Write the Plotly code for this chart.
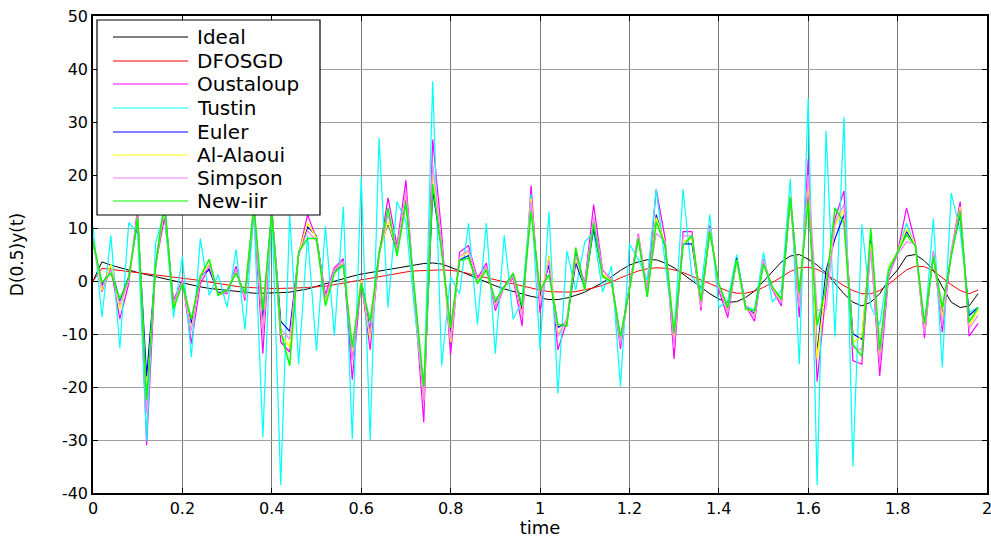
import plotly.graph_objects as go

# ---------------- data ----------------
t = [round(0.02 * i, 2) for i in range(100)]

ideal = [0.0, 3.6, 3.0, 2.5, 2.0, 1.6, 1.2, 0.8, 0.4, 0.0,
         -0.4, -0.8, -1.1, -1.4, -1.6, -1.8, -2.0, -2.2, -2.3, -2.3,
         -2.3, -2.2, -2.1, -1.8, -1.5, -1.0, -0.5, 0.0, 0.4, 0.9,
         1.3, 1.6, 1.9, 2.2, 2.5, 2.8, 3.1, 3.3, 3.4, 3.2,
         2.6, 1.9, 1.1, 0.4, -0.3, -0.9, -1.5, -2.0, -2.5, -2.9,
         -3.2, -3.5, -3.5, -3.2, -2.7, -2.1, -1.2, -0.3, 0.8, 2.0,
         3.0, 3.6, 4.0, 4.0, 3.4, 2.5, 1.3, 0.1, -1.2, -2.4,
         -3.4, -4.0, -3.9, -3.1, -1.9, -0.1, 1.8, 3.6, 4.7, 5.0,
         4.1, 3.0, 1.5, -0.5, -2.4, -4.0, -4.7, -4.0, -2.4, 0.2,
         2.1, 4.7, 5.0, 3.8, 2.1, -1.1, -4.0, -5.0, -4.7, -2.4]

dfosgd = [0.0, 2.4, 2.2, 2.0, 1.8, 1.6, 1.4, 1.2, 1.0, 0.8,
          0.5, 0.3, 0.1, -0.2, -0.5, -0.8, -1.0, -1.2, -1.3, -1.4,
          -1.4, -1.4, -1.4, -1.3, -1.2, -1.1, -1.0, -0.7, -0.4, -0.1,
          0.3, 0.6, 0.9, 1.2, 1.5, 1.7, 1.9, 2.0, 2.1, 2.1,
          2.0, 1.8, 1.4, 1.0, 0.6, 0.2, -0.2, -0.6, -1.0, -1.3,
          -1.7, -2.0, -2.1, -2.1, -2.0, -1.7, -1.3, -0.8, -0.2, 0.6,
          1.3, 1.9, 2.3, 2.5, 2.4, 2.1, 1.6, 0.9, 0.1, -0.6,
          -1.3, -1.9, -2.3, -2.3, -1.9, -1.2, -0.3, 0.8, 1.8, 2.5,
          2.6, 2.2, 1.3, 0.2, -0.9, -1.8, -2.4, -2.4, -1.8, -0.6,
          0.8, 2.1, 2.8, 2.7, 1.9, 0.6, -0.7, -1.8, -2.4, -1.7]

oustaloup = [8.0, -2.0, 2.5, -7.2, -0.5, 14.0, -31.0, 3.0, 12.0, -3.7,
             0.2, -11.8, -0.5, 2.5, -2.4, -2.4, 2.8, -3.7, 13.0, -13.7,
             14.0, -11.5, -13.4, 5.0, 12.5, 8.0, -2.5, 2.5, 4.2, -18.6,
             0.0, -13.0, 5.0, 15.7, 6.7, 19.0, -4.0, -26.7, 26.7, 9.0,
             -14.0, 5.4, 6.7, 0.5, 3.4, -5.6, -1.1, 0.5, -8.5, 18.0,
             -6.0, 4.7, -13.0, -7.6, 5.4, -0.5, 14.4, 2.1, 0.2, -12.8,
             -1.0, 8.9, -1.7, 17.3, 8.0, -14.7, 9.3, 9.3, -5.6, 10.5,
             -1.7, -6.9, 4.1, -4.7, -7.6, 4.1, -1.7, -4.7, 16.0, -6.9,
             23.0, -19.0, -2.0, 11.8, 17.0, -15.0, -15.7, 6.7, -17.9, 0.8,
             5.4, 13.8, 7.0, -10.8, 5.6, -9.6, 5.6, 15.0, -10.4, -8.0]

tustin = [10.2, -6.8, 8.6, -12.7, 11.0, 9.0, -30.2, 7.2, 13.0, -6.9,
          4.7, -14.4, 8.0, -2.7, 1.2, -5.0, 6.0, -9.2, 13.0, -29.5,
          14.0, -38.5, 12.5, -15.7, 8.6, -13.2, 10.3, -10.3, 14.0, -29.8,
          19.6, -30.0, 27.0, -5.0, 15.0, 11.2, -6.0, -21.8, 37.7, -16.0,
          0.8, -2.4, 10.9, -8.2, 10.9, -13.7, 8.6, -7.2, -3.7, 16.4,
          -13.0, 13.1, -21.2, 5.7, -1.7, 7.3, 9.3, -2.1, 2.8, -19.9,
          7.0, 4.1, 0.2, 17.3, 3.4, -10.5, 17.3, 0.8, -1.7, 12.5,
          -5.0, -3.7, 5.0, -4.7, -5.5, 5.4, -4.0, -1.7, 19.3, -15.7,
          34.5, -38.5, 28.3, -10.5, 31.0, -35.0, 10.7, -4.8, -8.3, 2.8,
          5.4, 10.9, 6.5, -9.5, 11.8, -16.3, 16.6, 9.5, -5.9, -5.0]

euler = [7.2, -0.8, 2.5, -3.7, 0.8, 11.5, -18.0, 2.5, 14.5, -4.5,
         -0.3, -8.0, 1.0, 2.1, -2.2, -2.0, 1.8, -2.8, 14.0, -7.5,
         13.5, -7.6, -9.5, 5.0, 10.2, 8.5, -3.5, 1.8, 3.5, -14.7,
         0.3, -9.5, 5.5, 10.9, 5.5, 15.5, -3.0, -22.0, 17.0, 6.0,
         -10.0, 4.0, 4.8, 0.0, 2.5, -4.2, -1.0, 1.2, -5.5, 14.5,
         -3.0, 3.0, -8.8, -7.8, 3.4, -1.2, 9.9, 1.2, 0.1, -11.0,
         -1.2, 8.2, -2.5, 12.5, 6.5, -11.0, 7.0, 7.0, -4.5, 9.8,
         -0.8, -5.5, 4.3, -4.8, -6.2, 3.6, -1.5, -3.8, 16.0, -3.5,
         17.0, -13.4, 2.0, 8.0, 12.5, -10.0, -11.0, 8.0, -14.0, 2.0,
         5.6, 9.3, 6.8, -9.0, 5.0, -6.5, 5.2, 12.5, -6.5, -5.0]

al_alaoui = [7.8, -1.7, 3.1, -5.3, 0.5, 12.5, -23.0, 2.8, 14.0, -4.8,
             -0.2, -9.2, 0.9, 3.2, -2.5, -1.8, 2.0, -3.0, 14.5, -9.8,
             13.5, -10.0, -12.5, 5.2, 10.9, 8.2, -3.8, 2.0, 3.6, -13.5,
             0.2, -10.8, 5.2, 11.2, 5.8, 16.5, -3.5, -22.5, 20.9, 6.5,
             -11.5, 4.5, 5.5, 0.0, 2.6, -4.5, -1.2, 1.0, -6.5, 15.5,
             -4.0, 4.7, -10.0, -7.5, 4.5, -1.0, 11.5, 1.3, 0.0, -11.5,
             -1.3, 8.5, -2.2, 12.0, 7.0, -11.5, 7.5, 8.0, -4.8, 10.0,
             -1.0, -5.8, 4.0, -5.0, -6.5, 3.8, -1.4, -4.0, 16.0, -4.6,
             18.8, -14.7, 0.0, 10.5, 13.5, -11.6, -10.5, 7.0, -14.7, 2.5,
             5.5, 9.9, 6.8, -9.5, 5.2, -7.0, 5.5, 14.0, -8.5, -5.5]

simpson = [7.5, -1.2, 2.2, -4.5, 0.0, 12.8, -25.0, 3.5, 14.0, -4.2,
           0.0, -9.5, 0.2, 3.0, -2.5, -2.2, 2.2, -3.2, 13.5, -10.0,
           13.8, -9.0, -11.0, 4.8, 9.5, 7.5, -3.2, 2.0, 3.8, -15.0,
           -0.3, -10.0, 5.0, 12.5, 6.0, 17.0, -3.8, -23.0, 22.0, 7.0,
           -11.0, 4.6, 5.8, 0.2, 2.8, -4.8, -1.0, 0.9, -6.8, 15.0,
           -4.5, 4.0, -10.5, -7.0, 4.8, -0.8, 12.0, 2.0, 0.3, -12.0,
           -1.0, 8.6, -1.8, 9.0, 7.5, -12.5, 8.5, 8.5, -5.0, 10.0,
           -1.2, -6.0, 3.9, -4.6, -6.8, 3.9, -1.6, -4.2, 15.5, -5.0,
           20.0, -5.6, -5.3, 11.0, 14.5, -12.5, -13.0, 6.0, -15.5, 1.0,
           5.0, 7.4, 7.0, -10.0, 5.5, -8.5, 5.8, 13.5, -9.0, -6.5]

new_iir = [7.6, -0.3, 1.5, -3.4, 0.5, 12.0, -22.5, 3.0, 15.0, -5.3,
           -0.5, -7.2, 0.8, 4.1, -2.7, -1.7, 1.5, -2.4, 14.4, -5.5,
           13.0, -9.5, -16.0, 5.5, 8.0, 8.0, -4.7, 1.5, 3.0, -12.5,
           -0.5, -7.6, 5.0, 13.8, 4.7, 14.8, -2.5, -20.0, 18.3, 5.5,
           -8.9, 3.8, 4.4, -0.5, 2.1, -3.7, -1.1, 1.5, -4.7, 13.1,
           -1.7, 1.2, -8.2, -8.5, 6.3, -1.7, 10.9, 0.8, -0.1, -10.5,
           -1.7, 8.0, -3.0, 11.2, 6.7, -9.8, 6.7, 8.6, -3.7, 9.3,
           -0.5, -5.0, 4.1, -5.3, -5.6, 3.1, -1.1, -3.4, 15.7, -2.0,
           15.0, -8.4, -1.0, 13.8, 11.0, -12.0, -14.2, 9.9, -13.0, 2.1,
           5.4, 8.7, 6.6, -8.0, 4.5, -5.0, 4.6, 13.1, -7.8, -5.0]

series_names = ["Ideal", "DFOSGD", "Oustaloup", "Tustin", "Euler",
                "Al-Alaoui", "Simpson", "New-iir"]
series_values = [ideal, dfosgd, oustaloup, tustin, euler, al_alaoui, simpson, new_iir]
series_colors = ["#000000", "#ff0000", "#ff00ff", "#00ffff", "#0000ff",
                 "#ffff00", "#ff80ff", "#00ff00"]
series_widths = [1, 1, 1.2, 1.2, 1.2, 1.4, 1.2, 1.5]

x_ticks = [0, 0.2, 0.4, 0.6, 0.8, 1, 1.2, 1.4, 1.6, 1.8, 2]
y_ticks = [-40, -30, -20, -10, 0, 10, 20, 30, 40, 50]

FONT = "DejaVu Sans, Liberation Sans, Arial, sans-serif"

# ---------------- figure ----------------
W, H = 991, 538
ML, MR, MT, MB = 93, 4, 16, 45
PW, PH = W - ML - MR, H - MT - MB

fig = go.Figure()
for name, vals, col, lw in zip(series_names, series_values, series_colors, series_widths):
    fig.add_trace(go.Scatter(x=t, y=vals, mode="lines", name=name,
                             line=dict(color=col, width=lw), showlegend=False))

fig.update_layout(
    width=W, height=H,
    margin=dict(l=ML, r=MR, t=MT, b=MB, pad=0),
    paper_bgcolor="white", plot_bgcolor="white",
    font=dict(family=FONT, size=16, color="black"),
)
fig.update_xaxes(
    range=[0, 2], tickvals=x_ticks, ticktext=[str(v) for v in x_ticks],
    showgrid=True, gridcolor="#7a7a7a", gridwidth=1,
    showline=True, linecolor="black", linewidth=1.5, mirror="ticks",
    ticks="inside", ticklen=5, tickcolor="black", zeroline=False,
    tickfont=dict(size=16), automargin=False,
    title=dict(text="time", font=dict(size=18), standoff=10),
)
fig.update_yaxes(
    range=[-40, 50], tickvals=y_ticks, ticktext=[str(v) for v in y_ticks],
    showgrid=True, gridcolor="#a0a0a0", gridwidth=1,
    showline=True, linecolor="black", linewidth=1.5, mirror="ticks",
    ticks="inside", ticklen=5, tickcolor="black", zeroline=False,
    tickfont=dict(size=16), automargin=False,
    title=dict(text="D(0.5)y(t)", font=dict(size=17), standoff=34),
)

# ---------------- legend (drawn box, like MATLAB) ----------------
def px_x(p):
    return (p - ML) / PW

def px_y(p):
    return (H - MB - p) / PH

shapes = [dict(type="rect", xref="paper", yref="paper",
               x0=px_x(97), x1=px_x(320), y0=px_y(215), y1=px_y(20),
               fillcolor="white", line=dict(color="black", width=1.2), layer="above")]
annotations = []
entry_y = [37, 61, 84, 108, 132, 155, 178, 201]
for name, col, yy in zip(series_names, series_colors, entry_y):
    shapes.append(dict(type="line", xref="paper", yref="paper",
                       x0=px_x(113), x1=px_x(188), y0=px_y(yy), y1=px_y(yy),
                       line=dict(color=col, width=1.2), layer="above"))
    annotations.append(dict(xref="paper", yref="paper", x=px_x(195), y=px_y(yy),
                            text=name, showarrow=False, xanchor="left", yanchor="middle",
                            font=dict(family=FONT, size=20, color="black")))

# last x tick label sits on the right edge of the figure (partly cut, as in the original)
annotations.append(dict(xref="x", yref="paper", x=x_ticks[-1], y=px_y(508),
                        text=str(x_ticks[-1]), showarrow=False, xanchor="center",
                        yanchor="middle", font=dict(family=FONT, size=16, color="black")))
fig.update_layout(shapes=shapes, annotations=annotations)

fig.write_html("out.html")
